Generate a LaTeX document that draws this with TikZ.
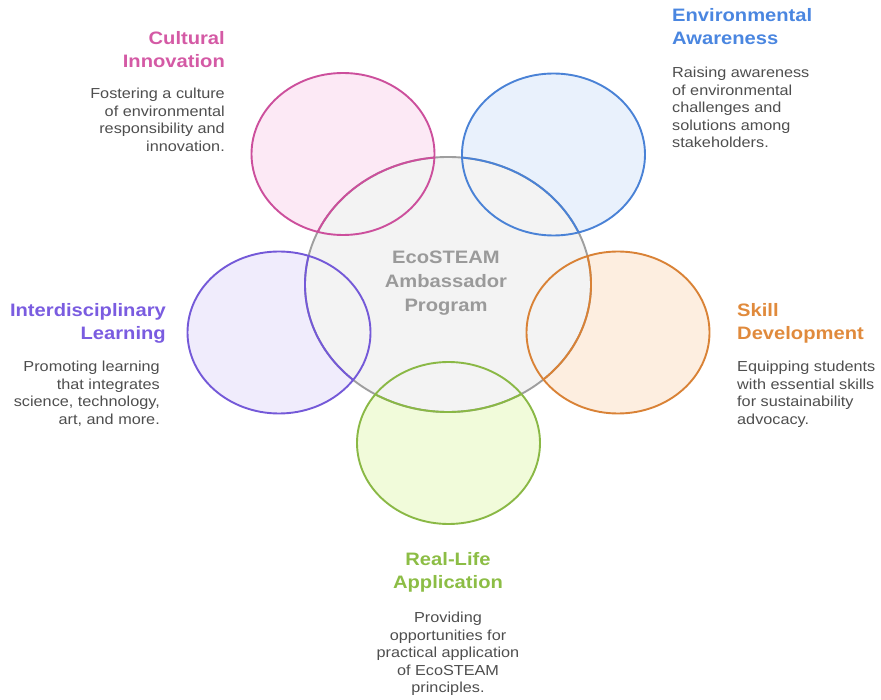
\documentclass[tikz,border=0pt]{standalone}
\usepackage{fontspec}
\setmainfont{Liberation Sans}[FakeStretch=1.12]
\usetikzlibrary{shapes.geometric}

% palette
\definecolor{pinkline}{HTML}{CC4F9C}
\definecolor{pinkfill}{HTML}{FCE9F5}
\definecolor{pinktext}{HTML}{D45AA5}
\definecolor{blueline}{HTML}{4A82D6}
\definecolor{bluefill}{HTML}{E9F1FC}
\definecolor{bluetext}{HTML}{4A86E0}
\definecolor{purpline}{HTML}{7459D8}
\definecolor{purpfill}{HTML}{F0ECFC}
\definecolor{purptext}{HTML}{7A5CE0}
\definecolor{orgline}{HTML}{D98236}
\definecolor{orgfill}{HTML}{FDEEE0}
\definecolor{orgtext}{HTML}{E08A3C}
\definecolor{grnline}{HTML}{8AB845}
\definecolor{grnfill}{HTML}{F1FBDA}
\definecolor{grntext}{HTML}{8CBD45}
\definecolor{hubline}{HTML}{9E9E9E}
\definecolor{hubfill}{HTML}{F3F3F3}
\definecolor{hubtext}{HTML}{9A9A9A}
\definecolor{bodygray}{HTML}{4E4E4E}

\tikzset{
  petal/.style={ellipse, inner sep=0pt, outer sep=0pt, minimum width=183pt, minimum height=162pt},
  hub/.style={ellipse, inner sep=0pt, outer sep=0pt, minimum width=286pt, minimum height=255pt},
  ring/.style={line width=1.9pt},
  heading/.style={font=\fontsize{18}{23}\selectfont\bfseries, inner sep=0pt},
  blurb/.style={font=\fontsize{14.5}{17.5}\selectfont, text=bodygray, inner sep=0pt},
}

\begin{document}
\begin{tikzpicture}[x=1pt,y=-1pt]
\useasboundingbox (0,0) rectangle (881,700);

% petal fills
\node[petal, fill=pinkfill] (cult) at (343,154) {};
\node[petal, fill=bluefill] (envi) at (553.5,154.5) {};
\node[petal, fill=purpfill] (inter) at (279,332.5) {};
\node[petal, fill=orgfill]  (skill) at (618,332.5) {};
\node[petal, fill=grnfill]  (real) at (448.5,443) {};

% central program circle
\node[hub, fill=hubfill, draw=hubline, ring] (hub) at (448,284.5) {};

% the hub outline takes each petal's colour inside that petal
\foreach \p/\col in {cult/pinkline, envi/blueline, inter/purpline, skill/orgline, real/grnline}{
  \begin{scope}
    \clip (\p.center) ellipse [x radius=91.5, y radius=81];
    \draw[ring, \col] (hub.center) ellipse [x radius=143, y radius=127.5];
  \end{scope}
}

% petal outlines
\draw[ring, pinkline] (cult.center) ellipse [x radius=91.5, y radius=81];
\draw[ring, blueline] (envi.center) ellipse [x radius=91.5, y radius=81];
\draw[ring, purpline] (inter.center) ellipse [x radius=91.5, y radius=81];
\draw[ring, orgline] (skill.center) ellipse [x radius=91.5, y radius=81];
\draw[ring, grnline] (real.center) ellipse [x radius=91.5, y radius=81];

% hub label
\node[font=\fontsize{18}{24}\selectfont\bfseries, text=hubtext, align=center, anchor=north, inner sep=0pt]
  (hubtxt) at (446,250.5) {EcoSTEAM\\Ambassador\\Program};

% Cultural Innovation
\node[heading, text=pinktext, align=right, anchor=north east] (cultT) at (225,31.5) {Cultural\\Innovation};
\node[blurb, align=right, anchor=north east] (cultD) at (225,88) {Fostering a culture\\of environmental\\responsibility and\\innovation.};

% Environmental Awareness
\node[heading, text=bluetext, align=left, anchor=north west] (enviT) at (672,8.5) {Environmental\\Awareness};
\node[blurb, align=left, anchor=north west] (enviD) at (672,67) {Raising awareness\\of environmental\\challenges and\\solutions among\\stakeholders.};

% Interdisciplinary Learning
\node[heading, text=purptext, align=right, anchor=north east] (interT) at (166,303.5) {Interdisciplinary\\Learning};
\node[blurb, align=right, anchor=north east] (interD) at (160,361) {Promoting learning\\that integrates\\science, technology,\\art, and more.};

% Skill Development
\node[heading, text=orgtext, align=left, anchor=north west] (skillT) at (737,303.5) {Skill\\Development};
\node[blurb, align=left, anchor=north west] (skillD) at (737,361) {Equipping students\\with essential skills\\for sustainability\\advocacy.};

% Real-Life Application
\node[heading, text=grntext, align=center, anchor=north] (realT) at (448,552.5) {Real-Life\\Application};
\node[blurb, align=center, anchor=north] (realD) at (448,612) {Providing\\opportunities for\\practical application\\of EcoSTEAM\\principles.};
\end{tikzpicture}
\end{document}
